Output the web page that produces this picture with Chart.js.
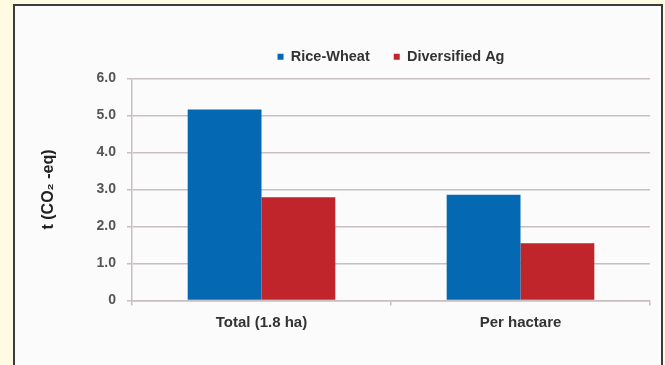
<!DOCTYPE html>
<html>
<head>
<meta charset="utf-8">
<script src="https://cdn.jsdelivr.net/npm/chart.js@4/dist/chart.umd.min.js"></script>
<style>
  html, body { margin: 0; padding: 0; background: #fffbe2; overflow: hidden; }
  #frame {
    position: absolute; left: 13px; top: 4px;
    width: 646px; height: 400px;
    border: 2px solid #3b3b3b;
    background: #fbfbfb;
  }
  #chart { position: absolute; left: 0; top: 0; }
</style>
</head>
<body>
<div id="frame"><canvas id="chart" width="646" height="359"></canvas></div>
<script>
// Emissions per farm system (t CO2-eq)
const categories = ['Total (1.8 ha)', 'Per hactare'];
const riceWheat = [5.16, 2.86];
const diversifiedAg = [2.79, 1.55];
const seriesNames = ['Rice-Wheat', 'Diversified Ag'];
const yTicks = ['0', '1.0', '2.0', '3.0', '4.0', '5.0', '6.0'];

const BLUE = '#0568b3';
const RED = '#bf252b';
const GRID = '#c9bfbf';
const FONT = "'Liberation Sans', Arial, sans-serif";

// Keep the legend band a fixed height so the plot sits below it
const LEGEND_TOP = 19.5;
const LEGEND_HEIGHT = 53;
const legendBand = {
  id: 'legendBand',
  beforeLayout(chart) {
    const lg = chart.legend;
    if (lg && !lg._bandFit) {
      const fit = lg.fit;
      lg.fit = function () { fit.call(this); this.height = LEGEND_HEIGHT; };
      lg._bandFit = true;
    }
  }
};

new Chart(document.getElementById('chart'), {
  type: 'bar',
  data: {
    labels: categories,
    datasets: [
      { label: seriesNames[0], data: riceWheat, backgroundColor: BLUE },
      { label: seriesNames[1], data: diversifiedAg, backgroundColor: RED }
    ]
  },
  options: {
    responsive: false,
    animation: false,
    events: [],
    layout: { padding: { top: LEGEND_TOP, right: 11, left: 0, bottom: 0 } },
    datasets: { bar: { categoryPercentage: 0.57, barPercentage: 1.0 } },
    plugins: {
      tooltip: { enabled: false },
      legend: {
        position: 'top',
        fullSize: false,
        labels: {
          boxWidth: 6, boxHeight: 6, padding: 24,
          color: '#333',
          font: { family: FONT, size: 14.5, weight: 'bold' }
        }
      }
    },
    scales: {
      x: {
        afterFit(s) { s.height = 64.5; },
        grid: { display: true, drawOnChartArea: false, tickLength: 5, color: GRID, lineWidth: 1.5 },
        border: { color: GRID, width: 1.5 },
        ticks: { color: '#333', padding: 8, font: { family: FONT, size: 15, weight: 'bold' } }
      },
      y: {
        min: 0, max: 6,
        afterFit(s) { s.width = 117; },
        grid: { color: GRID, lineWidth: 1.5, tickLength: 5 },
        border: { color: GRID, width: 1.5 },
        ticks: {
          stepSize: 1,
          padding: 11,
          color: '#555',
          font: { family: FONT, size: 14, weight: 'bold' },
          callback: (v) => yTicks[Math.round(v)]
        },
        title: {
          display: true,
          text: 't (CO\u2082 -eq)',
          color: '#222',
          padding: { top: 24, bottom: 0 },
          font: { family: FONT, size: 16, weight: 'bold' }
        }
      }
    }
  },
  plugins: [legendBand]
});
</script>
</body>
</html>
